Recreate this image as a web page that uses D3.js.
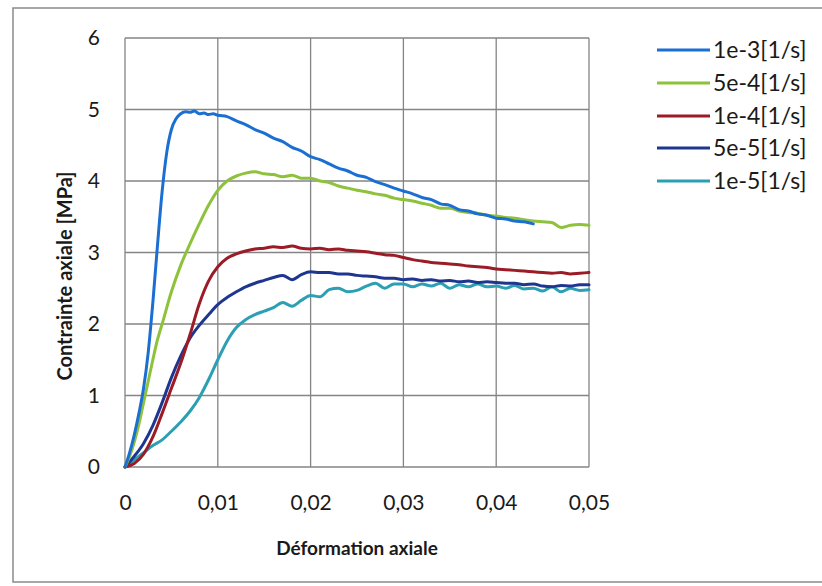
<!DOCTYPE html>
<html>
<head>
<meta charset="utf-8">
<script src="https://cdn.jsdelivr.net/npm/d3@7"></script>
<style>
  html, body { margin: 0; padding: 0; background: #fff; }
  svg { display: block; }
  text { font-family: Lato, "Open Sans", "DejaVu Sans", sans-serif; fill: #1a1a1a; }
</style>
</head>
<body>
<svg id="chart" width="822" height="586"></svg>
<script>
// ---------- data ----------
const seriesNames = ["1e-3[1/s]", "5e-4[1/s]", "1e-4[1/s]", "5e-5[1/s]", "1e-5[1/s]"];

const strainFast = [0,0.0005,0.001,0.0015,0.002,0.0025,0.003,0.0035,0.004,0.0045,0.005,0.0055,0.006,0.0065,0.007,0.0075,0.008,0.0085,0.009,0.0095,
  0.010,0.011,0.012,0.013,0.014,0.015,0.016,0.017,0.018,0.019,0.020,0.021,0.022,0.023,0.024,0.025,0.026,0.027,0.028,0.029,
  0.030,0.031,0.032,0.033,0.034,0.035,0.036,0.037,0.038,0.039,0.040,0.041,0.042,0.043,0.044];
const stress1e3 = [0,0.2,0.45,0.75,1.1,1.6,2.3,3.1,3.85,4.4,4.72,4.87,4.94,4.97,4.96,4.98,4.94,4.95,4.93,4.94,
  4.92,4.9,4.84,4.79,4.72,4.67,4.6,4.55,4.47,4.42,4.34,4.3,4.24,4.18,4.14,4.08,4.05,3.99,3.95,3.9,
  3.86,3.82,3.77,3.74,3.68,3.66,3.6,3.58,3.54,3.52,3.48,3.47,3.44,3.43,3.40];

const strainMid = [0,0.0005,0.001,0.0015,0.002,0.0025,0.003,0.0035,0.004,0.005,0.006,0.007,0.008,0.009,
  0.010,0.011,0.012,0.013,0.014,0.015,0.016,0.017,0.018,0.019,0.020,0.021,0.022,0.023,0.024,0.025,0.026,0.027,0.028,0.029,
  0.030,0.031,0.032,0.033,0.034,0.035,0.036,0.037,0.038,0.039,0.040,0.041,0.042,0.043,0.044,0.045,0.046,0.047,0.048,0.049,0.050];
const stress5e4 = [0,0.15,0.35,0.6,0.9,1.2,1.5,1.78,2.0,2.45,2.82,3.12,3.4,3.66,
  3.87,4.0,4.07,4.11,4.13,4.1,4.09,4.06,4.08,4.04,4.04,4.0,3.98,3.93,3.9,3.87,3.85,3.82,3.8,3.76,
  3.74,3.72,3.69,3.66,3.62,3.62,3.58,3.56,3.55,3.52,3.51,3.49,3.48,3.46,3.44,3.43,3.42,3.35,3.38,3.39,3.38];

const strainSlow = [0,0.001,0.002,0.003,0.004,0.005,0.006,0.007,0.008,0.009,
  0.010,0.011,0.012,0.013,0.014,0.015,0.016,0.017,0.018,0.019,
  0.020,0.021,0.022,0.023,0.024,0.025,0.026,0.027,0.028,0.029,
  0.030,0.031,0.032,0.033,0.034,0.035,0.036,0.037,0.038,0.039,
  0.040,0.041,0.042,0.043,0.044,0.045,0.046,0.047,0.048,0.049,0.050];
const stress1e4 = [0,0.05,0.18,0.42,0.75,1.1,1.45,1.85,2.28,2.6,
  2.8,2.92,2.98,3.02,3.05,3.06,3.08,3.07,3.09,3.06,
  3.05,3.06,3.04,3.05,3.03,3.02,3.01,2.99,2.97,2.96,
  2.93,2.9,2.88,2.86,2.85,2.84,2.83,2.81,2.8,2.79,
  2.77,2.76,2.75,2.74,2.73,2.72,2.71,2.72,2.7,2.71,2.72];
const stress5e5 = [0,0.15,0.33,0.58,0.9,1.25,1.55,1.8,1.98,2.13,
  2.27,2.37,2.45,2.52,2.57,2.61,2.65,2.68,2.62,2.69,
  2.73,2.72,2.72,2.7,2.7,2.68,2.67,2.66,2.64,2.64,
  2.62,2.63,2.61,2.62,2.6,2.61,2.59,2.6,2.58,2.59,
  2.58,2.57,2.57,2.55,2.56,2.53,2.52,2.54,2.53,2.55,2.55];
const stress1e5 = [0,0.1,0.2,0.3,0.38,0.5,0.63,0.78,0.97,1.22,
  1.5,1.76,1.95,2.06,2.13,2.18,2.23,2.3,2.25,2.33,
  2.4,2.38,2.48,2.5,2.45,2.47,2.53,2.57,2.5,2.56,
  2.56,2.52,2.56,2.53,2.57,2.5,2.55,2.52,2.56,2.52,
  2.53,2.5,2.54,2.49,2.5,2.46,2.52,2.45,2.5,2.47,2.48];

const xTicks = [0, 0.01, 0.02, 0.03, 0.04, 0.05];
const xTickLabels = ["0", "0,01", "0,02", "0,03", "0,04", "0,05"];
const yTicks = [0, 1, 2, 3, 4, 5, 6];
const yTickLabels = ["0", "1", "2", "3", "4", "5", "6"];
const xTitle = "Déformation axiale";
const yTitle = "Contrainte axiale [MPa]";

// ---------- build ----------
const seriesStrain = [strainFast, strainMid, strainSlow, strainSlow, strainSlow];
const seriesStress = [stress1e3, stress5e4, stress1e4, stress5e5, stress1e5];
const colors = ["#1b6fd3", "#8dc23a", "#9b1b26", "#1f3690", "#2b9fb3"];

const series = seriesNames.map((name, i) => ({
  name, color: colors[i],
  pts: seriesStrain[i].map((s, j) => [s, seriesStress[i][j]])
}));

const svg = d3.select("#chart");
const pL = 125, pR = 589, pT = 38, pB = 467;

const x = d3.scaleLinear().domain([0, 0.05]).range([pL, pR]);
const y = d3.scaleLinear().domain([0, 6]).range([pB, pT]);

// outer frame
svg.append("rect").attr("x", 13).attr("y", 8).attr("width", 830).attr("height", 574)
  .attr("fill", "none").attr("stroke", "#8a8a8a").attr("stroke-width", 1.5);

// grid
const gridColor = "#858585";
svg.append("g").selectAll("line").data(xTicks).join("line")
  .attr("x1", d => x(d)).attr("x2", d => x(d)).attr("y1", pT).attr("y2", pB)
  .attr("stroke", gridColor).attr("stroke-width", 1.3);
svg.append("g").selectAll("line").data(yTicks).join("line")
  .attr("x1", pL).attr("x2", pR).attr("y1", d => y(d)).attr("y2", d => y(d))
  .attr("stroke", gridColor).attr("stroke-width", 1.3);

// axes (labels only)
const xAxis = d3.axisBottom(x).tickValues(xTicks).tickSize(0).tickPadding(28)
  .tickFormat((d, i) => xTickLabels[i]);
const gx = svg.append("g").attr("transform", `translate(0,${pB})`).call(xAxis);
gx.select(".domain").remove();
gx.selectAll("text").style("font-size", "21px").attr("fill", "#1a1a1a");

const yAxis = d3.axisLeft(y).tickValues(yTicks).tickSize(0).tickPadding(25)
  .tickFormat((d, i) => yTickLabels[i]);
const gy = svg.append("g").attr("transform", `translate(${pL},0)`).call(yAxis);
gy.select(".domain").remove();
gy.selectAll("text").style("font-size", "21px").attr("fill", "#1a1a1a");

// titles
svg.append("text").attr("x", (pL + pR) / 2).attr("y", 555)
  .attr("text-anchor", "middle").style("font-size", "19px").style("font-weight", "bold")
  .text(xTitle);
svg.append("text").attr("transform", `translate(72,276) rotate(-90)`)
  .attr("text-anchor", "middle").style("font-size", "20px").style("font-weight", "bold")
  .text(yTitle);

// lines
const line = d3.line().curve(d3.curveMonotoneX).x(d => x(d[0])).y(d => y(d[1]));
svg.append("g").selectAll("path").data(series.slice().reverse()).join("path")
  .attr("d", d => line(d.pts)).attr("fill", "none")
  .attr("stroke", d => d.color).attr("stroke-width", 3)
  .attr("stroke-linejoin", "round").attr("stroke-linecap", "round");

// legend
const lg = svg.append("g");
const legY = [50, 83, 116, 148, 181];
series.forEach((s, i) => {
  lg.append("line").attr("x1", 657).attr("x2", 710).attr("y1", legY[i]).attr("y2", legY[i])
    .attr("stroke", s.color).attr("stroke-width", 3);
  lg.append("text").attr("x", 713).attr("y", legY[i]).attr("dy", "0.35em")
    .style("font-size", "23px").text(s.name);
});
</script>
</body>
</html>
